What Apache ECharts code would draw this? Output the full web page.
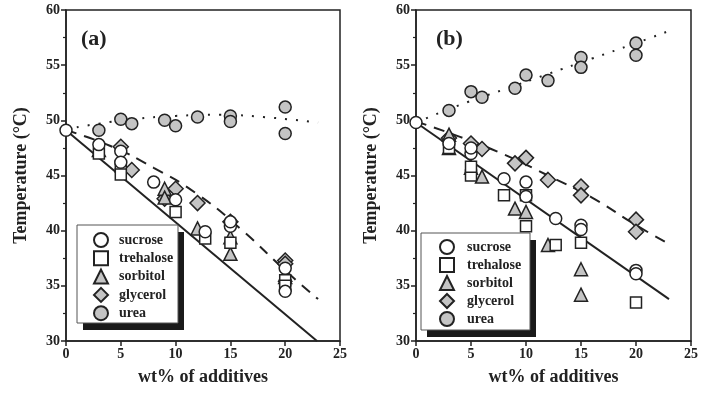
<!DOCTYPE html>
<html>
<head>
<meta charset="utf-8">
<script src="https://cdn.jsdelivr.net/npm/echarts@6/dist/echarts.min.js"></script>
<style>
  html, body { margin: 0; padding: 0; background: #fff; }
  #chart { width: 709px; height: 394px; }
</style>
</head>
<body>
<div id="chart"></div>
<script>
// ---- data: [wt%, temperature] ----
const additives = ['sucrose', 'trehalose', 'sorbitol', 'glycerol', 'urea'];

// panel (a)
const sucroseA = [[0, 49.1], [3, 47.8], [5, 47.2], [5, 46.2], [8, 44.4], [10, 42.8], [12.7, 39.9], [15, 40.4], [15, 40.8], [20, 36.6], [20, 34.5]];
const trehaloseA = [[3, 47.0], [5, 45.8], [5, 45.1], [10, 41.7], [12.7, 39.3], [15, 38.9], [20, 35.5], [20, 35.0]];
const sorbitolA = [[3, 47.3], [9, 43.8], [9, 43.0], [12, 40.2], [15, 39.4], [15, 37.9], [20, 36.0], [20, 35.8]];
const glycerolA = [[5, 47.6], [6, 45.5], [9, 42.9], [10, 43.8], [12, 42.5], [15, 40.8], [20, 37.3], [20, 37.0]];
const ureaA = [[3, 49.1], [5, 50.1], [6, 49.7], [9, 50.0], [10, 49.5], [12, 50.3], [15, 50.4], [15, 49.9], [20, 51.2], [20, 48.8]];
const solidA = [[0, 49.1], [22.9, 30.0]];
const dashedA = [[0, 49.1], [4, 47.7], [8, 45.7], [12, 43.3], [16, 40.1], [20, 36.4], [23, 33.8]];
const dottedA = [[0, 49.2], [3, 49.7], [6, 50.1], [10, 50.4], [14, 50.5], [18, 50.3], [23, 49.8]];

// panel (b)
const sucroseB = [[0, 49.8], [3, 47.9], [5, 47.0], [5, 47.5], [8, 44.7], [10, 44.4], [10, 43.1], [12.7, 41.1], [15, 40.5], [15, 40.1], [20, 36.4], [20, 36.1]];
const trehaloseB = [[3, 47.5], [5, 45.0], [5, 45.8], [8, 43.2], [10, 43.2], [10, 40.4], [12.7, 38.7], [15, 38.9], [20, 33.5]];
const sorbitolB = [[3, 48.7], [3, 47.5], [5, 45.7], [6, 44.9], [9, 42.0], [10, 41.7], [12, 38.7], [15, 36.5], [15, 34.2]];
const glycerolB = [[3, 48.4], [5, 47.9], [6, 47.4], [9, 46.1], [10, 46.6], [12, 44.6], [15, 44.0], [15, 43.2], [20, 41.0], [20, 39.9]];
const ureaB = [[3, 50.9], [5, 52.6], [6, 52.1], [9, 52.9], [10, 54.1], [12, 53.6], [15, 55.7], [15, 54.8], [20, 57.0], [20, 55.9]];
const solidB = [[0, 49.8], [23, 33.8]];
const dashedB = [[0, 49.9], [4, 48.5], [8, 46.9], [12, 45.0], [16, 43.0], [20, 40.5], [23, 38.8]];
const dottedB = [[0, 49.8], [4, 51.4], [8, 52.8], [12, 54.2], [16, 55.6], [20, 57.0], [23, 58.1]];

const FONT = '"Liberation Serif", "DejaVu Serif", serif';
const INK = '#222';
const GRAY = '#c4c4c4';

const symbols = {
    sucrose: { symbol: 'circle', size: 12, fill: '#fff' },
    trehalose: { symbol: 'rect', size: 11, fill: '#fff' },
    sorbitol: { symbol: 'triangle', size: 13, fill: GRAY },
    glycerol: { symbol: 'diamond', size: 15, fill: GRAY },
    urea: { symbol: 'circle', size: 12, fill: GRAY }
};

function scatter(name, data, idx) {
    const s = symbols[name];
    return {
        name: name,
        type: 'scatter',
        xAxisIndex: idx,
        yAxisIndex: idx,
        data: data,
        symbol: s.symbol,
        symbolSize: s.size,
        itemStyle: { color: s.fill, borderColor: INK, borderWidth: 1.5, opacity: 1 },
        z: 3
    };
}

function fitLine(data, idx, type, smooth) {
    return {
        type: 'line',
        xAxisIndex: idx,
        yAxisIndex: idx,
        data: data,
        smooth: smooth,
        showSymbol: false,
        silent: true,
        lineStyle: { color: INK, width: 2, type: type },
        z: 2
    };
}

function xAxisOf(idx) {
    return {
        gridIndex: idx,
        type: 'value',
        min: 0, max: 25, interval: 5,
        name: 'wt% of additives',
        nameLocation: 'middle',
        nameGap: 27,
        nameTextStyle: { fontFamily: FONT, fontWeight: 'bold', fontSize: 18, color: INK },
        axisLine: { lineStyle: { color: INK, width: 1.5 } },
        axisTick: { length: 5, lineStyle: { color: INK, width: 1.5 } },
        axisLabel: { fontFamily: FONT, fontWeight: 'bold', fontSize: 14, color: INK, margin: 6 },
        splitLine: { show: false }
    };
}

function yAxisOf(idx) {
    return {
        gridIndex: idx,
        type: 'value',
        min: 30, max: 60, interval: 5,
        name: 'Temperature (\u00B0C)',
        nameLocation: 'middle',
        nameGap: 36,
        nameTextStyle: { fontFamily: FONT, fontWeight: 'bold', fontSize: 18, color: INK },
        axisLine: { lineStyle: { color: INK, width: 1.5 } },
        axisTick: { length: 5, lineStyle: { color: INK, width: 1.5 } },
        minorTick: { show: true, splitNumber: 2, length: 3, lineStyle: { color: INK, width: 1.2 } },
        axisLabel: { fontFamily: FONT, fontWeight: 'bold', fontSize: 14, color: INK, margin: 6 },
        splitLine: { show: false }
    };
}

function legendOf(left, top, gap, textPad) {
    return {
        orient: 'vertical',
        left: left,
        top: top,
        data: additives,
        itemWidth: 14,
        itemHeight: 14,
        itemGap: gap,
        padding: 0,
        selectedMode: false,
        z: 6,
        textStyle: { fontFamily: FONT, fontWeight: 'bold', fontSize: 14, color: INK, padding: [0, 0, 0, textPad] }
    };
}

// legend frame with its drop shadow
function legendBox(x, y, w, h) {
    return [
        { type: 'rect', z: 4, shape: { x: x + 6, y: y + 7, width: w, height: h }, style: { fill: '#1a1a1a' } },
        { type: 'rect', z: 5, shape: { x: x, y: y, width: w, height: h }, style: { fill: '#fff', stroke: '#555', lineWidth: 1 } }
    ];
}

const chart = echarts.init(document.getElementById('chart'));

chart.setOption({
    backgroundColor: '#fff',
    animation: false,
    title: [
        { text: '(a)', left: 81, top: 28, padding: 0, textStyle: { fontFamily: FONT, fontWeight: 'bold', fontSize: 22, color: INK } },
        { text: '(b)', left: 436, top: 28, padding: 0, textStyle: { fontFamily: FONT, fontWeight: 'bold', fontSize: 22, color: INK } }
    ],
    grid: [
        { left: 66, top: 10, width: 274, height: 331, show: true, borderColor: INK, borderWidth: 1.5, backgroundColor: 'transparent' },
        { left: 416, top: 10, width: 275, height: 331, show: true, borderColor: INK, borderWidth: 1.5, backgroundColor: 'transparent' }
    ],
    graphic: legendBox(77, 225, 101, 98).concat(legendBox(421, 233, 109, 97)),
    legend: [legendOf(93, 232, 2.3, 6), legendOf(439, 239, 2, 8)],
    xAxis: [xAxisOf(0), xAxisOf(1)],
    yAxis: [yAxisOf(0), yAxisOf(1)],
    series: [
        fitLine(solidA, 0, 'solid', false),
        fitLine(dashedA, 0, [11, 8], true),
        fitLine(dottedA, 0, [2, 9], true),
        scatter('urea', ureaA, 0),
        scatter('glycerol', glycerolA, 0),
        scatter('sorbitol', sorbitolA, 0),
        scatter('trehalose', trehaloseA, 0),
        scatter('sucrose', sucroseA, 0),

        fitLine(solidB, 1, 'solid', false),
        fitLine(dashedB, 1, [11, 8], true),
        fitLine(dottedB, 1, [2, 9], true),
        scatter('urea', ureaB, 1),
        scatter('glycerol', glycerolB, 1),
        scatter('sorbitol', sorbitolB, 1),
        scatter('trehalose', trehaloseB, 1),
        scatter('sucrose', sucroseB, 1)
    ]
});
</script>
</body>
</html>
